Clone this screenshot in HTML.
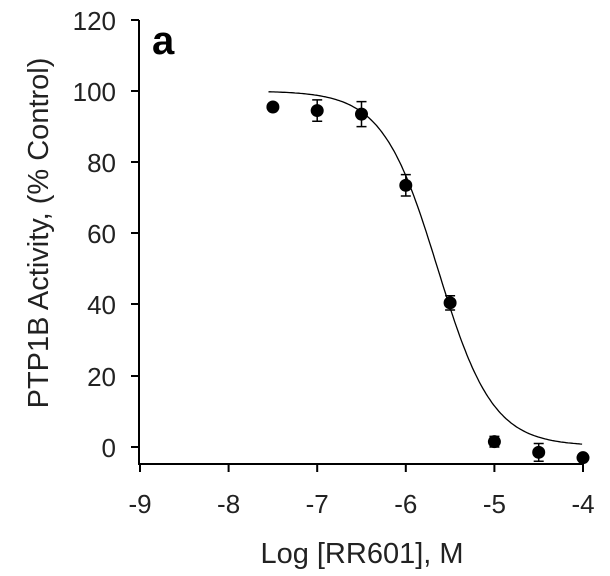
<!DOCTYPE html>
<html><head><style>body{margin:0;background:#fff}svg{display:block}</style></head>
<body>
<svg id="s" width="610" height="576" xmlns="http://www.w3.org/2000/svg" font-family="Liberation Sans, Arial, sans-serif">
<rect width="610" height="576" fill="#fff"/>
<g stroke="#000" stroke-width="2" fill="none">
<line x1="139" y1="20" x2="139" y2="465"/>
<line x1="138" y1="464" x2="584" y2="464"/>
<path d="M131 20H139M131 91H139M131 162H139M131 233H139M131 304H139M131 376H139M131 447H139"/>
<path d="M140 464V472M228.6 464V472M317.2 464V472M405.8 464V472M494.4 464V472M583 464V472"/>
</g>
<g font-size="26" text-anchor="end" fill="#222">
<text x="116" y="30">120</text><text x="116" y="101">100</text><text x="116" y="172">80</text>
<text x="116" y="243">60</text><text x="116" y="314">40</text><text x="116" y="386">20</text><text x="116" y="457">0</text>
</g>
<g font-size="26" text-anchor="middle" fill="#222">
<text x="140" y="513">-9</text><text x="228.6" y="513">-8</text><text x="317.2" y="513">-7</text>
<text x="405.8" y="513">-6</text><text x="494.4" y="513">-5</text><text x="583" y="513">-4</text>
</g>
<text x="362" y="563" font-size="29" text-anchor="middle" fill="#222">Log [RR601], M</text>
<text transform="translate(48,233) rotate(-90)" font-size="29" text-anchor="middle" fill="#222">PTP1B Activity, (% Control)</text>
<text x="152" y="54" font-size="40" font-weight="bold">a</text>
<path id="c" fill="none" stroke="#000" stroke-width="1.3"/>
<g id="d"></g>
</svg>
<script>
var X=function(v){return 140+(v+9)*88.6},Y=function(v){return 447-v*3.56};
var p="";for(var x=-7.55;x<=-4.0001;x+=0.02){var y=0.3+99.7/(1+Math.pow(10,1.4*(x+5.64)));p+=(p?"L":"M")+X(x).toFixed(1)+" "+Y(y).toFixed(1);}
document.getElementById("c").setAttribute("d",p);
var d=[[-7.5,95.5,0],[-7,94.5,3],[-6.5,93.5,3.5],[-6,73.5,3],[-5.5,40.5,2],[-5,1.5,1.5],[-4.5,-1.5,2.5],[-4,-3,0]],h="";
d.forEach(function(a){var cx=X(a[0]),cy=Y(a[1]);if(a[2])h+='<path d="M'+(cx-5)+' '+Y(a[1]+a[2])+'H'+(cx+5)+'M'+cx+' '+Y(a[1]+a[2])+'V'+Y(a[1]-a[2])+'M'+(cx-5)+' '+Y(a[1]-a[2])+'H'+(cx+5)+'" stroke="#000" stroke-width="1.5"/>';h+='<circle cx="'+cx+'" cy="'+cy+'" r="6.5" fill="#000"/>';});
document.getElementById("d").innerHTML=h;
</script>
</body></html>
